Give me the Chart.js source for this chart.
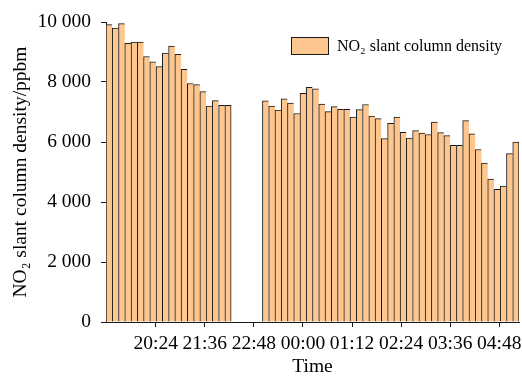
<!DOCTYPE html>
<html>
<head>
<meta charset="utf-8">
<script src="https://cdn.jsdelivr.net/npm/chart.js@4"></script>
<style>
  html, body { margin: 0; padding: 0; background: #fff; }
</style>
</head>
<body>
<canvas id="no2Chart" width="522" height="379"></canvas>
<script>
// Thời điểm của từng lần đo (các ô trống = không có số liệu)
const times = [
	'19:16', '19:25', '19:34', '19:43', '19:52', '20:02', '20:11', '20:20', '20:29', '20:38',
	'20:48', '20:57', '21:06', '21:15', '21:24', '21:33', '21:43', '21:52', '22:01', '22:10',
	'22:19', '22:29', '22:38', '22:47', '22:56', '23:05', '23:15', '23:24', '23:33', '23:42',
	'23:51', '00:00', '00:10', '00:19', '00:28', '00:37', '00:46', '00:56', '01:05', '01:14',
	'01:23', '01:32', '01:42', '01:51', '02:00', '02:09', '02:18', '02:28', '02:37', '02:46',
	'02:55', '03:04', '03:13', '03:23', '03:32', '03:41', '03:50', '03:59', '04:09', '04:18',
	'04:27', '04:36', '04:45', '04:55', '05:04', '05:13'
];

const values = [
	9910, 9800, 9945, 9290, 9330, 9330, 8850, 8670, 8510, 8960,
	9200, 8920, 8420, 7950, 7910, 7680, 7200, 7380, 7220, 7220,
	null, null, null, null, null, 7370, 7200, 7060, 7440, 7300,
	6950, 7620, 7820, 7770, 7260, 7010, 7180, 7090, 7090, 6830,
	7080, 7250, 6860, 6780, 6110, 6620, 6830, 6320, 6130, 6380,
	6300, 6250, 6660, 6310, 6210, 5890, 5890, 6710, 6270, 5750,
	5300, 4760, 4420, 4530, 5610, 6000
];

const tickTimes = ['20:24', '21:36', '22:48', '00:00', '01:12', '02:24', '03:36', '04:48'];
const yTicks = [0, 2000, 4000, 6000, 8000, 10000];
const axisStart = '19:11';
const axisEnd = '05:17';

const seriesLabel = 'NO\u2082 slant column density';
const yTitle = 'NO\u2082 slant column density/ppbm';
const xTitle = 'Time';

const barColor = '#fdc68e';
const lineColor = '#1a1a1a';
const fontFamily = '"Liberation Serif", "Times New Roman", serif';

// đổi "hh:mm" sang phút, giờ sau nửa đêm cộng thêm 1 ngày
function toMinutes(t) {
	const p = t.split(':');
	let m = parseInt(p[0]) * 60 + parseInt(p[1]);
	if (parseInt(p[0]) < 12) m += 1440;
	return m;
}

function formatTime(m) {
	m = Math.round(m) % 1440;
	const h = Math.floor(m / 60), mm = m % 60;
	return (h < 10 ? '0' : '') + h + ':' + (mm < 10 ? '0' : '') + mm;
}

function formatThousands(v) {
	return String(v).replace(/\B(?=(\d{3})+(?!\d))/g, ' ');
}

// Chú thích nằm trong vùng vẽ
const insideLegend = {
	id: 'insideLegend',
	afterDraw(chart) {
		const ctx = chart.ctx;
		const ds = chart.data.datasets[0];
		const x = chart.chartArea.right - 228;
		const y = chart.chartArea.top + 15;
		ctx.save();
		ctx.fillStyle = ds.backgroundColor;
		ctx.fillRect(x, y, 38, 18);
		ctx.strokeStyle = lineColor;
		ctx.lineWidth = 1;
		ctx.strokeRect(x + 0.5, y + 0.5, 37, 17);
		ctx.fillStyle = '#000';
		ctx.font = '16px ' + fontFamily;
		ctx.textBaseline = 'middle';
		ctx.fillText(ds.label, x + 46, y + 9.5);
		ctx.restore();
	}
};

Chart.defaults.font.family = fontFamily;
Chart.defaults.color = '#000';

const ctx1 = document.getElementById('no2Chart').getContext('2d');
window.no2Chart = new Chart(ctx1, {
	type: 'bar',
	data: {
		labels: times,
		datasets: [{
			label: seriesLabel,
			data: values,
			backgroundColor: barColor,
			borderColor: lineColor,
			borderWidth: function(c) {
				const last = values[c.dataIndex + 1] == null;
				return { top: 1, left: 1, right: last ? 1 : 0, bottom: 0 };
			},
			borderSkipped: false,
			categoryPercentage: 1,
			barPercentage: 1
		}]
	},
	options: {
		responsive: false,
		devicePixelRatio: 1,
		animation: false,
		layout: { padding: { top: 22, right: 3, left: 0, bottom: 0 } },
		plugins: {
			legend: { display: false },
			tooltip: { enabled: false }
		},
		scales: {
			x: {
				type: 'category',
				display: false,
				offset: true
			},
			xTime: {
				type: 'linear',
				axis: 'x',
				position: 'bottom',
				offset: false,
				min: toMinutes(axisStart),
				max: toMinutes(axisEnd),
				afterBuildTicks: function(scale) {
					scale.ticks = tickTimes.map(t => ({ value: toMinutes(t) }));
				},
				afterFit: function(scale) {
					scale.height = 57;
					scale.paddingLeft = 0;
					scale.paddingRight = 0;
				},
				ticks: {
					callback: v => formatTime(v),
					font: { size: 19.5 },
					padding: 5,
					maxRotation: 0,
					autoSkip: false
				},
				grid: { drawOnChartArea: false, offset: false, color: lineColor, tickLength: 5 },
				border: { color: lineColor, width: 1 },
				title: { display: true, text: xTitle, font: { size: 19.5 }, padding: { top: 0, bottom: 0 } }
			},
			y: {
				min: 0,
				max: 10000,
				afterBuildTicks: function(scale) {
					scale.ticks = yTicks.map(v => ({ value: v }));
				},
				afterFit: function(scale) {
					scale.width = 106;
				},
				ticks: {
					callback: v => formatThousands(v),
					font: { size: 19.5 },
					padding: 10
				},
				grid: { drawOnChartArea: false, color: lineColor, tickLength: 5 },
				border: { color: lineColor, width: 1 },
				title: { display: true, text: yTitle, font: { size: 19.5 }, padding: { top: 9, bottom: 0 } }
			}
		}
	},
	plugins: [insideLegend]
});
</script>
</body>
</html>
